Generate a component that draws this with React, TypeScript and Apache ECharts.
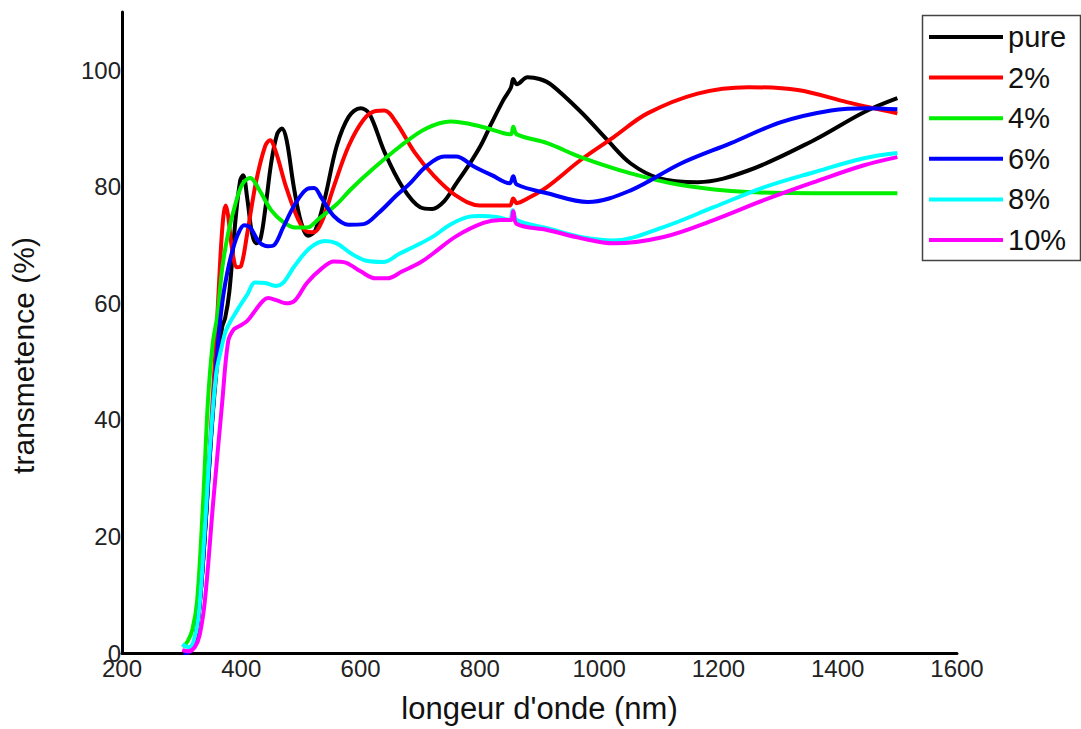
import React, { useEffect, useRef } from "react";
import * as echarts from "echarts";

const seriesNames = ["pure", "2%", "4%", "6%", "8%", "10%"];
const seriesColors = ["#000000", "#ff0000", "#00ee00", "#0000ff", "#00ffff", "#ff00ff"];

const pure: number[][] = [
  [305, 0], [315, 0.3], [322, 2], [330, 8], [340, 22], [350, 38], [360, 50], [368, 56], [373, 57.5],
  [380, 62], [390, 74], [398, 81], [403, 82], [410, 78], [418, 72], [425, 70.3], [432, 71], [440, 76],
  [450, 84], [460, 89], [468, 90], [476, 88], [488, 80], [500, 74], [512, 71.6], [524, 72.5], [540, 78],
  [560, 87], [580, 92], [600, 93.5], [615, 92.5], [640, 86], [670, 80], [700, 76.5], [720, 76.2],
  [740, 77.5], [760, 80.5], [780, 83.5], [801, 87], [820, 91], [840, 95], [852, 97], [856, 98.5],
  [862, 97.6], [880, 98.8], [900, 98.5], [920, 97.5], [970, 92.8], [1014, 88], [1053, 84], [1100, 81.5],
  [1165, 80.8], [1250, 82.8], [1360, 88], [1444, 92.8], [1500, 95.2]
];

const p2: number[][] = [
  [305, 0], [315, 0.3], [322, 2], [330, 8], [340, 22], [350, 40], [358, 54], [365, 68], [370, 75],
  [374, 76.8], [378, 75], [385, 69], [393, 66.2], [400, 66.5], [410, 72], [425, 81], [440, 87], [448, 88],
  [458, 86], [475, 80], [495, 74.5], [510, 72.3], [522, 72.2], [535, 74], [555, 80], [580, 87], [605, 91.5],
  [625, 93], [640, 93.1], [660, 91], [690, 86], [722, 82], [760, 78.5], [800, 76.8], [850, 76.8],
  [856, 78], [862, 77.2], [880, 78], [913, 80], [969, 84.6], [1024, 88.5], [1081, 92.6], [1165, 96],
  [1250, 97.1], [1333, 96.6], [1417, 94.5], [1500, 92.6]
];

const p4: number[][] = [
  [302, 1], [310, 2], [318, 4], [326, 9], [336, 26], [344, 43], [352, 53], [360, 58], [368, 66], [378, 72],
  [390, 77], [402, 80.5], [415, 81.5], [430, 79.5], [450, 76], [470, 74], [490, 73], [510, 73], [530, 74.5],
  [560, 77], [583, 79.5], [620, 83], [667, 87], [710, 90], [751, 91.2], [800, 90.4], [840, 89.2],
  [852, 89], [856, 90.3], [862, 89], [913, 87.5], [969, 85.1], [1053, 82.3], [1137, 80.3], [1249, 79.1],
  [1360, 78.9], [1500, 78.9]
];

const p6: number[][] = [
  [303, 0], [315, 0.3], [322, 2], [330, 8], [340, 22], [350, 38], [360, 52], [368, 60], [376, 65], [385, 69],
  [395, 72], [405, 73.4], [415, 73], [430, 70.5], [445, 69.8], [455, 70], [470, 73], [490, 77], [510, 79.6],
  [522, 79.8], [535, 78], [555, 75], [580, 73.5], [605, 73.6], [630, 75.5], [660, 78.5], [683, 80.6],
  [710, 83.5], [740, 85.2], [760, 85.2], [790, 83.5], [820, 82], [850, 80.6], [856, 81.8], [862, 80.4],
  [913, 78.9], [981, 77.4], [1053, 79.4], [1137, 84], [1221, 87.5], [1305, 91.1], [1389, 93.1],
  [1450, 93.5], [1500, 93.3]
];

const p8: number[][] = [
  [301, 1.5], [312, 1], [320, 2], [328, 6], [338, 20], [348, 36], [358, 48], [366, 52], [375, 55.5],
  [393, 58.8], [410, 61.5], [423, 63.6], [440, 63.5], [458, 63], [470, 63.5], [490, 66.5], [515, 69.5],
  [540, 70.7], [560, 70.3], [585, 68.5], [610, 67.3], [638, 67.1], [665, 68.5], [695, 70], [722, 71.5],
  [750, 73.5], [779, 74.8], [801, 75], [830, 74.8], [850, 74.3], [855, 76], [862, 74.3], [913, 72.9],
  [969, 71.4], [1024, 70.8], [1108, 73.1], [1192, 76.5], [1276, 79.9], [1360, 82.5], [1444, 84.9], [1500, 85.8]
];

const p10: number[][] = [
  [301, 0.5], [312, 0.3], [322, 1], [330, 3], [339, 9], [353, 26], [368, 43], [378, 53.5], [387, 55.5],
  [395, 56], [410, 57], [425, 59], [437, 60.5], [445, 60.9], [460, 60.5], [475, 60], [490, 60.5], [510, 63.5],
  [535, 66], [555, 67.2], [575, 67], [600, 65.5], [625, 64.3], [645, 64.3], [670, 65.5], [700, 67],
  [722, 68.6], [760, 71.5], [806, 73.8], [835, 74.3], [852, 74.3], [856, 75.8], [862, 73.6], [913, 72.6],
  [969, 71.2], [1024, 70.3], [1108, 71.4], [1192, 74.3], [1276, 77.7], [1360, 80.8], [1444, 83.7], [1500, 85.1]
];

const allData = [pure, p2, p4, p6, p8, p10];

const FONT = "'Liberation Sans', Arial, sans-serif";

export default function App() {
  const ref = useRef<HTMLDivElement>(null);
  useEffect(() => {
    if (!ref.current) return;
    const chart = echarts.init(ref.current, undefined, { renderer: "svg" });
    chart.setOption({
      animation: false,
      backgroundColor: "#ffffff",
      grid: { left: 122, top: 12, right: 124, bottom: 76, containLabel: false },
      xAxis: {
        type: "value",
        min: 200,
        max: 1600,
        interval: 200,
        name: "longeur d'onde (nm)",
        nameLocation: "middle",
        nameGap: 40,
        nameTextStyle: { fontSize: 31, color: "#111", fontFamily: FONT },
        axisLine: { show: true, lineStyle: { color: "#000", width: 3 } },
        axisTick: { show: false },
        splitLine: { show: false },
        axisLabel: {
          fontSize: 24,
          color: "#222",
          fontFamily: FONT,
          margin: 3,
          formatter: (v: number) => String(v),
        },
      },
      yAxis: {
        type: "value",
        min: 0,
        max: 110,
        interval: 20,
        name: "transmetence (%)",
        nameLocation: "middle",
        nameGap: 84,
        nameRotate: 90,
        nameTextStyle: { fontSize: 30, color: "#111", fontFamily: FONT, padding: [0, 46, 0, 0] },
        axisLine: { show: true, onZero: false, lineStyle: { color: "#000", width: 3 } },
        axisTick: { show: false },
        splitLine: { show: false },
        axisLabel: {
          fontSize: 24,
          color: "#222",
          fontFamily: FONT,
          margin: 1,
          showMaxLabel: false,
          formatter: (v: number) => String(v),
        },
      },
      legend: {
        orient: "vertical",
        left: 929,
        top: 20,
        padding: 0,
        icon: "rect",
        itemWidth: 74,
        itemHeight: 4,
        itemGap: 6.6,
        textStyle: { fontSize: 29, lineHeight: 34, color: "#111", fontFamily: FONT },
        data: seriesNames,
      },
      graphic: [
        {
          type: "rect",
          left: 920,
          top: 13,
          shape: { width: 158, height: 245 },
          style: { fill: "none", stroke: "#444", lineWidth: 1.5 },
          z: 100,
        },
      ],
      series: allData.map((d, i) => ({
        type: "line",
        name: seriesNames[i],
        data: d,
        showSymbol: false,
        symbol: "none",
        smooth: 0.35,
        lineStyle: { color: seriesColors[i], width: 4 },
        itemStyle: { color: seriesColors[i] },
      })),
    });
    return () => chart.dispose();
  }, []);
  return (
    <div
      ref={ref}
      style={{ position: "fixed", left: 0, top: 0, width: 1081, height: 729, background: "#fff" }}
    />
  );
}
